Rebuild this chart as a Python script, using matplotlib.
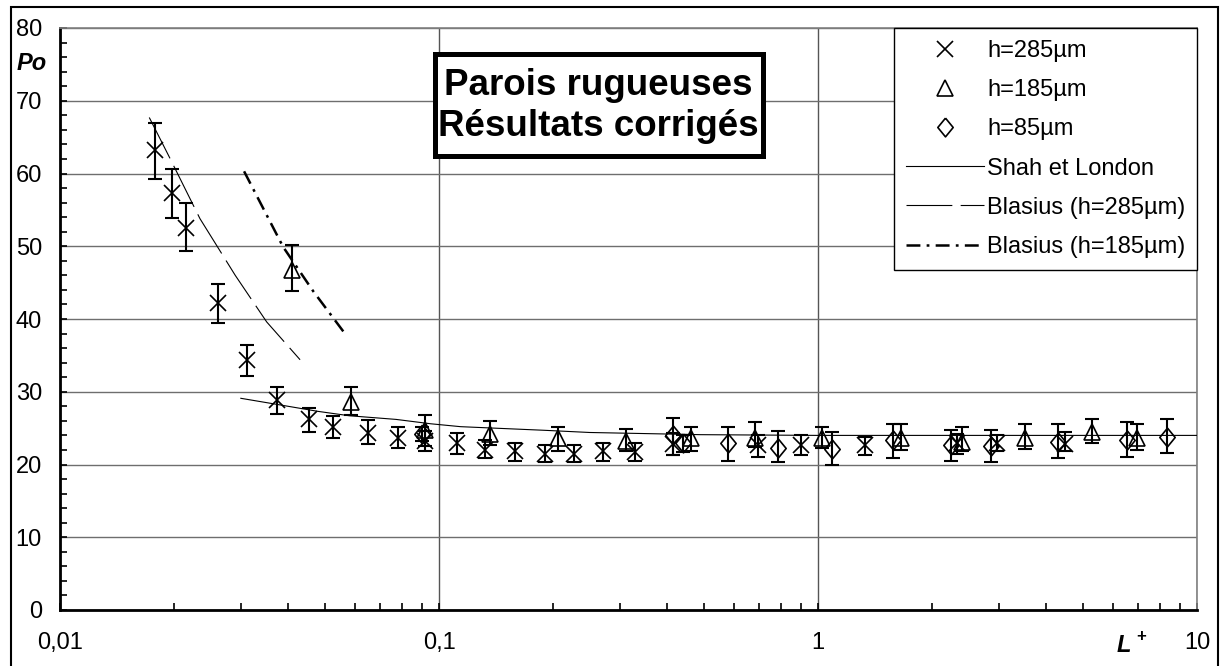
import numpy as np
import matplotlib
matplotlib.use("Agg")
import matplotlib.pyplot as plt
from matplotlib.patches import Rectangle
from matplotlib.ticker import FixedLocator, NullFormatter, MultipleLocator

plt.rcParams['font.family'] = ['Liberation Sans', 'DejaVu Sans']
plt.rcParams['lines.scale_dashes'] = False

# ---- data ----
# h = 285 um  (x markers)
L285 = [0.0178, 0.0197, 0.0215, 0.0261, 0.0311, 0.0373, 0.0455, 0.0526, 0.0649, 0.0781,
        0.0919, 0.1113, 0.1322, 0.1587, 0.1905, 0.2271, 0.2704, 0.3290, 0.4144, 0.6959,
        0.9001, 1.330, 2.323, 2.961, 4.484]
Po285 = [63.2, 57.3, 52.5, 42.2, 34.4, 28.9, 26.2, 25.2, 24.3, 23.7,
         23.2, 22.9, 22.0, 21.8, 21.5, 21.5, 21.8, 21.7, 22.8, 22.7,
         22.7, 22.7, 22.9, 22.9, 22.8]
lo285 = [59.3, 53.9, 49.4, 39.5, 32.2, 26.9, 24.4, 23.7, 22.8, 22.3,
         21.8, 21.5, 20.9, 20.5, 20.3, 20.3, 20.5, 20.5, 21.3, 21.0,
         21.3, 21.3, 21.5, 21.8, 21.8]
hi285 = [66.9, 60.6, 55.9, 44.8, 36.4, 30.6, 27.8, 26.7, 26.1, 25.2,
         24.6, 24.3, 23.4, 22.9, 22.7, 22.7, 22.9, 22.9, 24.3, 24.1,
         24.1, 23.8, 24.2, 24.1, 24.5]

# h = 185 um  (triangles)
L185 = [0.0409, 0.0586, 0.0919, 0.1364, 0.2057, 0.3114, 0.4614, 0.6821, 1.0226, 1.653,
        2.394, 3.517, 5.276, 6.933]
Po185 = [46.7, 28.6, 24.7, 24.2, 23.6, 23.2, 23.6, 23.6, 23.6, 23.6,
         23.1, 23.6, 24.5, 23.6]
lo185 = [43.8, 26.8, 22.6, 22.7, 21.8, 21.8, 21.8, 22.4, 22.2, 22.0,
         21.8, 22.1, 22.9, 22.0]
hi185 = [50.2, 30.7, 26.8, 26.0, 25.2, 24.9, 25.2, 25.8, 25.2, 25.5,
         25.2, 25.5, 26.2, 25.5]

# h = 85 um  (diamonds)
L85 = [0.090, 0.4144, 0.4404, 0.5799, 0.7856, 1.0866, 1.580, 2.239, 2.856, 4.305,
       6.546, 8.318]
Po85 = [24.2, 24.0, 22.9, 22.9, 22.2, 22.1, 23.4, 22.7, 22.5, 23.1, 23.4, 23.8]
lo85 = [23.2, 21.3, 21.7, 20.5, 20.3, 19.9, 20.9, 20.5, 20.3, 20.9, 21.0, 21.6]
hi85 = [25.2, 26.4, 24.1, 25.2, 24.6, 24.4, 25.5, 24.8, 24.7, 25.5, 25.8, 26.2]

# model curves
L_shah = [0.030, 0.037, 0.048, 0.058, 0.077, 0.095, 0.114, 0.19, 0.25, 0.49, 1.0, 10.0]
Po_shah = [29.1, 28.3, 27.3, 26.7, 26.2, 25.6, 25.2, 24.7, 24.4, 24.1, 24.0, 24.0]

L_bl285 = [0.0172, 0.0195, 0.0234, 0.0290, 0.0351, 0.0430]
Po_bl285 = [67.7, 62.1, 53.8, 46.0, 39.6, 34.4]

L_bl185 = [0.0306, 0.0388, 0.0466, 0.0559]
Po_bl185 = [60.3, 49.9, 43.8, 38.3]

xticks = [0.01, 0.1, 1, 10]
xticklabels = ['0,01', '0,1', '1', '10']

# ---- figure ----
W, H = 1223, 666
fig = plt.figure(figsize=(W / 100, H / 100), dpi=100)
ax = fig.add_axes([60 / W, 56 / H, 1137 / W, 582 / H])

ax.set_xscale('log')
ax.set_xlim(0.01, 10)
ax.set_ylim(0, 80)

# grid
ax.set_axisbelow(True)
ax.grid(axis='y', which='major', color='#6e6e6e', lw=1.0)
ax.grid(axis='x', which='major', color='#555555', lw=1.0)

diamond = [(0, 1), (0.82, 0), (0, -1), (-0.82, 0), (0, 1)]

def err(v, lo, hi):
    v = np.array(v)
    return [v - np.array(lo), np.array(hi) - v]

ebkw = dict(fmt='none', ecolor='black', elinewidth=1.5, capsize=4.8, capthick=1.5, zorder=3)
ax.errorbar(L285, Po285, yerr=err(Po285, lo285, hi285), **ebkw)
ax.errorbar(L185, Po185, yerr=err(Po185, lo185, hi185), **ebkw)
ax.errorbar(L85, Po85, yerr=err(Po85, lo85, hi85), **ebkw)

ax.plot(L285, Po285, ls='none', marker='x', ms=11, mew=1.2, color='black',
        label='h=285µm', zorder=4)
ax.plot(L185, Po185, ls='none', marker='^', ms=11, mew=1.2, mfc='none', color='black',
        label='h=185µm', zorder=4)
ax.plot(L85, Po85, ls='none', marker=diamond, ms=13.5, mew=1.2, mfc='none', color='black',
        label='h=85µm', zorder=4)

ax.plot(L_shah, Po_shah, color='black', lw=0.8, label='Shah et London', zorder=3)
ax.plot(L_bl285, Po_bl285, color='black', lw=0.8, ls=(0, (33, 6)),
        label='Blasius (h=285µm)', zorder=3)
ax.plot(L_bl185, Po_bl185, color='black', lw=1.8, ls=(0, (10, 4.5, 2, 4.5)),
        label='Blasius (h=185µm)', zorder=3)

# ticks
ax.yaxis.set_major_locator(MultipleLocator(10))
ax.yaxis.set_minor_locator(MultipleLocator(2))
ax.xaxis.set_major_locator(FixedLocator(xticks))
ax.set_xticklabels(xticklabels)
ax.xaxis.set_minor_locator(FixedLocator(
    [m * d for d in (0.01, 0.1, 1) for m in range(2, 10)]))
ax.xaxis.set_minor_formatter(NullFormatter())
ax.tick_params(which='both', direction='in', color='black', width=1.2)
ax.tick_params(which='major', length=5)
ax.tick_params(which='minor', length=5)
ax.tick_params(axis='y', labelsize=17, pad=13, right=False)
ax.tick_params(axis='x', labelsize=17, pad=16, top=False)

for s in ('left', 'bottom'):
    ax.spines[s].set_linewidth(2)
    ax.spines[s].set_color('black')
for s in ('top', 'right'):
    ax.spines[s].set_linewidth(1.2)
    ax.spines[s].set_color('#808080')

leg = ax.legend(loc='upper right', borderaxespad=0, fancybox=False, framealpha=1,
                edgecolor='black', fontsize=17, handlelength=3.3, handletextpad=0.12,
                labelspacing=0.73, borderpad=0.5)
leg.get_frame().set_linewidth(1.0)

# axis titles
fig.text(32 / W, 1 - 64 / H, 'Po', fontsize=17, fontweight='bold', fontstyle='italic',
         ha='center', va='center')
fig.text(1124 / W, 1 - 646 / H, 'L', fontsize=17, fontweight='bold', fontstyle='italic',
         ha='center', va='center')
fig.text(1141 / W, 1 - 637 / H, '+', fontsize=12, fontweight='bold',
         ha='center', va='center')

# title box
fig.add_artist(Rectangle((434.5 / W, 1 - 155.5 / H), 328 / W, 102 / H,
                         transform=fig.transFigure, facecolor='white',
                         edgecolor='black', lw=3.6, zorder=5))
fig.text(598 / W, 1 - 106 / H, 'Parois rugueuses\nRésultats corrigés', fontsize=26.5,
         fontweight='bold', ha='center', va='center', linespacing=1.2, zorder=6)

# outer frame
fig.add_artist(Rectangle((11 / W, -0.02), 1207 / W, 1.02 - 7 / H,
                         transform=fig.transFigure, fill=False,
                         edgecolor='black', lw=1.5, zorder=7))

fig.savefig('out.png', dpi=100)
